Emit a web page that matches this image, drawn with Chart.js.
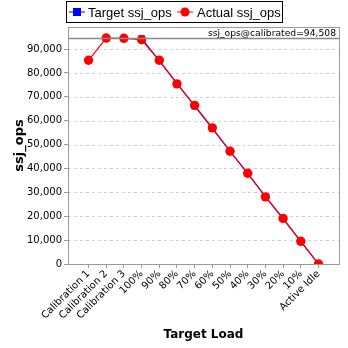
<!DOCTYPE html>
<html><head><meta charset="utf-8">
<script src="https://cdn.jsdelivr.net/npm/chart.js@4/dist/chart.umd.min.js"></script>
<style>html,body{margin:0;padding:0;background:#fff}#w{width:348px;height:348px}</style>
</head><body><div id="w"><canvas id="c" width="348" height="348"></canvas></div>
<script>
const categories = ["Calibration 1","Calibration 2","Calibration 3","100%","90%","80%","70%","60%","50%","40%","30%","20%","10%","Active Idle"];
const targetOps = [null,null,null,94508,85057,75606,66156,56705,47254,37803,28352,18902,9451,0];
const actualOps = [85300,94600,94500,93900,85300,75400,66400,57000,47200,38000,28100,19100,9500,0];
const calibrated = 94508;
const yTicks = [0,10000,20000,30000,40000,50000,60000,70000,80000,90000];
const FONT = "'DejaVu Sans', sans-serif";
const LFONT = "'Liberation Sans', Arial, sans-serif";

function pts(arr){ return arr.map((v,i)=> v===null?{x:i,y:null}:{x:i,y:v}); }

const overlay = {
  id:'overlay',
  beforeDatasetsDraw(chart){
    const {ctx, chartArea:a, scales:{y}} = chart;
    ctx.save();
    ctx.strokeStyle='#d0d0d0'; ctx.lineWidth=1; ctx.setLineDash([3,3]);
    y.ticks.forEach(t=>{
      if(t.value===0) return;
      const yy=Math.round(y.getPixelForValue(t.value))+0.5;
      ctx.beginPath(); ctx.moveTo(a.left,yy); ctx.lineTo(a.right,yy); ctx.stroke();
    });
    ctx.restore();
  },
  afterDatasetsDraw(chart){
    const {ctx, chartArea:a, scales:{y}} = chart;
    ctx.save();
    // calibrated line
    const yy = Math.round(y.getPixelForValue(calibrated))+0.5;
    ctx.strokeStyle='#888'; ctx.lineWidth=1.3;
    ctx.beginPath(); ctx.moveTo(a.left,yy); ctx.lineTo(a.right,yy); ctx.stroke();
    ctx.fillStyle='#000'; ctx.font='9.2px '+FONT; ctx.textAlign='right'; ctx.textBaseline='alphabetic';
    ctx.fillText('ssj_ops@calibrated=94,508', a.right-3, a.top+9);
    // border
    ctx.strokeStyle='#999'; ctx.lineWidth=1;
    ctx.strokeRect(Math.round(a.left)+0.5, Math.round(a.top)+0.5, Math.round(a.right-a.left), Math.round(a.bottom-a.top));
    // legend
    ctx.strokeStyle='#000'; ctx.lineWidth=1;
    ctx.strokeRect(66.5,1.5,216,21);
    ctx.font='13px '+LFONT; ctx.textAlign='left'; ctx.textBaseline='middle';
    const ly=12;
    ctx.strokeStyle='#0000ff'; ctx.beginPath(); ctx.moveTo(69,ly); ctx.lineTo(85,ly); ctx.stroke();
    ctx.fillStyle='#0000ff'; ctx.fillRect(73,ly-4,8,8);
    ctx.fillStyle='#000'; ctx.fillText(chart.data.datasets[0].label, 88, ly+1);
    ctx.strokeStyle='#ff0000'; ctx.beginPath(); ctx.moveTo(177,ly); ctx.lineTo(193,ly); ctx.stroke();
    ctx.fillStyle='#ff0000'; ctx.beginPath(); ctx.arc(185,ly,4.5,0,Math.PI*2); ctx.fill();
    ctx.fillStyle='#000'; ctx.fillText(chart.data.datasets[1].label, 197, ly+1);
    ctx.restore();
  }
};

new Chart(document.getElementById('c'), {
  type:'line',
  data:{datasets:[
    {label:'Target ssj_ops', data:pts(targetOps), borderColor:'#0000ff', backgroundColor:'#0000ff', borderWidth:1.2,
     pointStyle:'rect', pointRadius:4.5, pointBorderWidth:0, spanGaps:false, order:2},
    {label:'Actual ssj_ops', data:pts(actualOps), borderColor:'#ff0000', backgroundColor:'#ff0000', borderWidth:1.2,
     pointStyle:'circle', pointRadius:4.7, pointBorderWidth:0, order:1}
  ]},
  options:{
    responsive:false, animation:false, devicePixelRatio:1,
    layout:{padding:{left:0,top:27,right:9,bottom:0}},
    plugins:{legend:{display:false}, tooltip:{enabled:false}},
    scales:{
      x:{type:'linear', min:-1.16, max:14.16,
        afterBuildTicks(s){ s.ticks = categories.map((c,i)=>({value:i})); },
        afterFit(s){ s.height = 348-264; },
        grid:{display:true, drawOnChartArea:false, drawTicks:true, tickLength:4, color:'#999'},
        border:{display:false},
        ticks:{autoSkip:false, maxRotation:45, minRotation:45, padding:0, color:'#000',
          font:{family:FONT,size:10}, callback:(v)=>categories[v]},
        title:{display:true, text:'Target Load', color:'#000', font:{family:FONT,size:12,weight:'bold'}, padding:{top:0,bottom:6}}
      },
      y:{min:0, max:99233,
        afterBuildTicks(s){ s.ticks = yTicks.map(v=>({value:v})); },
        afterFit(s){ s.width = 68; },
        grid:{drawOnChartArea:false, tickLength:4, tickColor:'#999', lineWidth:1},
        border:{display:false},
        ticks:{color:'#000', font:{family:FONT,size:10}, padding:2,
          callback:(v)=>v.toLocaleString('en-US')},
        title:{display:true, text:'ssj_ops', color:'#000', font:{family:FONT,size:13,weight:'bold'}, padding:{top:12,bottom:4}}
      }
    }
  },
  plugins:[overlay]
});
</script></body></html>
